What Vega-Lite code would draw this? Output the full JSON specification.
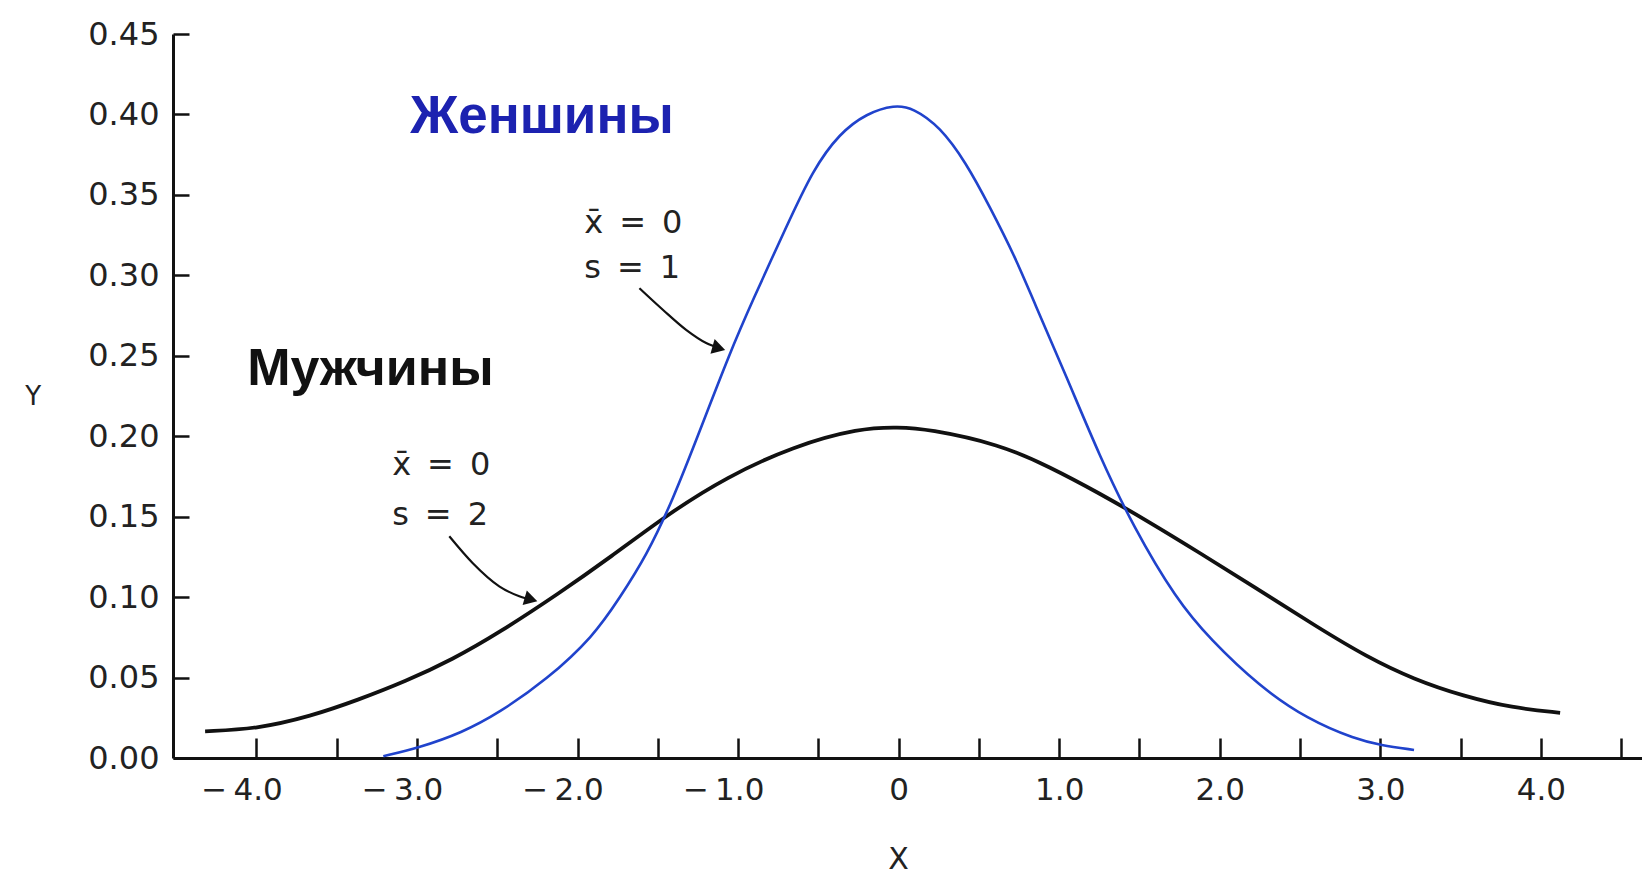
{
  "$schema": "https://vega.github.io/schema/vega-lite/v6.json",
  "autosize": {"type": "none"},
  "padding": {"left": 173, "top": 34, "right": 0, "bottom": 121},
  "width": 1469,
  "height": 724,
  "background": "white",
  "config": {"view": {"stroke": null}},
  "datasets": {
    "curves": [
      {"series": "men", "x": -4.32, "y": 0.0166},
      {"series": "men", "x": -4.0, "y": 0.018},
      {"series": "men", "x": -3.66, "y": 0.026},
      {"series": "men", "x": -3.37, "y": 0.036},
      {"series": "men", "x": -3.07, "y": 0.0477},
      {"series": "men", "x": -2.78, "y": 0.0612},
      {"series": "men", "x": -2.49, "y": 0.0778},
      {"series": "men", "x": -2.112, "y": 0.1026},
      {"series": "men", "x": -1.8, "y": 0.1245},
      {"series": "men", "x": -1.427, "y": 0.1523},
      {"series": "men", "x": -1.074, "y": 0.1745},
      {"series": "men", "x": -0.659, "y": 0.1937},
      {"series": "men", "x": -0.243, "y": 0.2051},
      {"series": "men", "x": 0.0, "y": 0.2056},
      {"series": "men", "x": 0.18, "y": 0.2045},
      {"series": "men", "x": 0.629, "y": 0.195},
      {"series": "men", "x": 0.94, "y": 0.181},
      {"series": "men", "x": 1.252, "y": 0.1645},
      {"series": "men", "x": 1.564, "y": 0.1465},
      {"series": "men", "x": 1.875, "y": 0.1275},
      {"series": "men", "x": 2.187, "y": 0.108},
      {"series": "men", "x": 2.61, "y": 0.0812},
      {"series": "men", "x": 2.91, "y": 0.0632},
      {"series": "men", "x": 3.21, "y": 0.0488},
      {"series": "men", "x": 3.52, "y": 0.0384},
      {"series": "men", "x": 3.82, "y": 0.0312},
      {"series": "men", "x": 4.12, "y": 0.0281},
      {"series": "women", "x": -3.21, "y": 0.0011},
      {"series": "women", "x": -2.99, "y": 0.0063},
      {"series": "women", "x": -2.72, "y": 0.0157},
      {"series": "women", "x": -2.49, "y": 0.028},
      {"series": "women", "x": -2.19, "y": 0.0488},
      {"series": "women", "x": -1.9, "y": 0.0757},
      {"series": "women", "x": -1.738, "y": 0.0995},
      {"series": "women", "x": -1.572, "y": 0.1255},
      {"series": "women", "x": -1.406, "y": 0.1606},
      {"series": "women", "x": -1.24, "y": 0.203},
      {"series": "women", "x": -1.053, "y": 0.2515},
      {"series": "women", "x": -0.908, "y": 0.2848},
      {"series": "women", "x": -0.7, "y": 0.3301},
      {"series": "women", "x": -0.534, "y": 0.3657},
      {"series": "women", "x": -0.368, "y": 0.3883},
      {"series": "women", "x": -0.2, "y": 0.4007},
      {"series": "women", "x": -0.025, "y": 0.406},
      {"series": "women", "x": 0.09, "y": 0.404},
      {"series": "women", "x": 0.256, "y": 0.3925},
      {"series": "women", "x": 0.42, "y": 0.37},
      {"series": "women", "x": 0.567, "y": 0.3427},
      {"series": "women", "x": 0.734, "y": 0.3096},
      {"series": "women", "x": 0.837, "y": 0.2848},
      {"series": "women", "x": 1.045, "y": 0.2371},
      {"series": "women", "x": 1.252, "y": 0.1875},
      {"series": "women", "x": 1.46, "y": 0.144},
      {"series": "women", "x": 1.73, "y": 0.0984},
      {"series": "women", "x": 1.94, "y": 0.0738},
      {"series": "women", "x": 2.244, "y": 0.0447},
      {"series": "women", "x": 2.547, "y": 0.024},
      {"series": "women", "x": 2.85, "y": 0.0115},
      {"series": "women", "x": 3.0, "y": 0.008},
      {"series": "women", "x": 3.21, "y": 0.005}
    ],
    "arrows": [
      {"arrow": "a1", "order": 1, "x": -1.615, "y": 0.292},
      {"arrow": "a1", "order": 2, "x": -1.469, "y": 0.2786},
      {"arrow": "a1", "order": 3, "x": -1.324, "y": 0.2661},
      {"arrow": "a1", "order": 4, "x": -1.199, "y": 0.2579},
      {"arrow": "a1", "order": 5, "x": -1.11, "y": 0.2545},
      {"arrow": "a2", "order": 1, "x": -2.799, "y": 0.1378},
      {"arrow": "a2", "order": 2, "x": -2.654, "y": 0.1212},
      {"arrow": "a2", "order": 3, "x": -2.488, "y": 0.1067},
      {"arrow": "a2", "order": 4, "x": -2.363, "y": 0.1005},
      {"arrow": "a2", "order": 5, "x": -2.27, "y": 0.0978}
    ],
    "heads": [
      {"arrow": "a1", "x": -1.12, "y": 0.2547},
      {"arrow": "a2", "x": -2.29, "y": 0.0985}
    ],
    "params": [
      {"x": -1.958, "y": 0.3326, "text": "x̄\u2002=\u20020"},
      {"x": -1.958, "y": 0.3047, "text": "s\u2002=\u20021"},
      {"x": -3.155, "y": 0.1823, "text": "x̄\u2002=\u20020"},
      {"x": -3.155, "y": 0.1512, "text": "s\u2002=\u20022"}
    ],
    "women_label": [{"x": -3.042, "y": 0.3985, "text": "Женшины"}],
    "men_label": [{"x": -4.058, "y": 0.242, "text": "Мужчины"}]
  },
  "layer": [
    {
      "data": {"name": "curves"},
      "mark": {"type": "line", "interpolate": "basis"},
      "encoding": {
        "x": {
          "field": "x", "type": "quantitative",
          "scale": {"domain": [-4.52, 4.63], "nice": false, "zero": false},
          "axis": {
            "title": "X",
            "values": [-4, -3.5, -3, -2.5, -2, -1.5, -1, -0.5, 0, 0.5, 1, 1.5, 2, 2.5, 3, 3.5, 4, 4.5],
            "labelExpr": "datum.value === 0 ? '0' : (abs(datum.value % 1) < 0.01 ? (datum.value < 0 ? '\u2212\u2009' + format(abs(datum.value), '.1f') : format(datum.value, '.1f')) : '')",
            "labelOffset": {"condition": {"test": "datum.value < 0", "value": -15}, "value": 0},
            "grid": false,
            "domainColor": "#111111", "domainWidth": 3,
            "tickColor": "#111111", "tickWidth": 2.5, "tickSize": -20,
            "labelFont": "DejaVu Sans", "labelFontSize": 31, "labelColor": "#222222",
            "labelPadding": 37, "labelFlush": false, "labelOverlap": false,
            "titleFont": "DejaVu Sans", "titleFontSize": 30, "titleFontWeight": "normal", "titleColor": "#222222",
            "titlePadding": 39, "titleX": 725
          }
        },
        "y": {
          "field": "y", "type": "quantitative",
          "scale": {"domain": [0, 0.45], "nice": false},
          "axis": {
            "title": "Y",
            "values": [0, 0.05, 0.1, 0.15, 0.2, 0.25, 0.3, 0.35, 0.4, 0.45],
            "format": ".2f",
            "grid": false,
            "domainColor": "#111111", "domainWidth": 3,
            "tickColor": "#111111", "tickWidth": 2.5, "tickSize": -16,
            "labelFont": "DejaVu Sans", "labelFontSize": 32, "labelColor": "#222222",
            "labelPadding": 30, "labelFlush": false, "labelOverlap": false,
            "titleFont": "DejaVu Sans", "titleFontSize": 26, "titleFontWeight": "normal", "titleColor": "#222222",
            "titleAngle": 0, "titleAlign": "center", "titleBaseline": "middle",
            "titlePadding": 55
          }
        },
        "color": {
          "field": "series", "type": "nominal",
          "scale": {"domain": ["men", "women"], "range": ["#111111", "#2043cc"]},
          "legend": null
        },
        "strokeWidth": {
          "field": "series", "type": "nominal",
          "scale": {"domain": ["men", "women"], "range": [3.8, 2.6]},
          "legend": null
        }
      }
    },
    {
      "data": {"name": "arrows"},
      "mark": {"type": "line", "interpolate": "monotone", "color": "#111111", "strokeWidth": 2.2},
      "encoding": {
        "x": {"field": "x", "type": "quantitative"},
        "y": {"field": "y", "type": "quantitative"},
        "detail": {"field": "arrow"},
        "order": {"field": "order"}
      }
    },
    {
      "data": {"name": "heads"},
      "mark": {"type": "point", "shape": "triangle-right", "filled": true, "color": "#111111", "size": 230, "angle": 16, "opacity": 1},
      "encoding": {
        "x": {"field": "x", "type": "quantitative"},
        "y": {"field": "y", "type": "quantitative"}
      }
    },
    {
      "data": {"name": "params"},
      "mark": {"type": "text", "align": "left", "baseline": "middle", "font": "DejaVu Sans", "fontSize": 32, "color": "#222222"},
      "encoding": {
        "x": {"field": "x", "type": "quantitative"},
        "y": {"field": "y", "type": "quantitative"},
        "text": {"field": "text"}
      }
    },
    {
      "data": {"name": "women_label"},
      "mark": {"type": "text", "align": "left", "baseline": "middle", "font": "Liberation Sans", "fontWeight": "bold", "fontSize": 53, "color": "#1c22b0"},
      "encoding": {
        "x": {"field": "x", "type": "quantitative"},
        "y": {"field": "y", "type": "quantitative"},
        "text": {"field": "text"}
      }
    },
    {
      "data": {"name": "men_label"},
      "mark": {"type": "text", "align": "left", "baseline": "middle", "font": "Liberation Sans", "fontWeight": "bold", "fontSize": 52, "color": "#111111"},
      "encoding": {
        "x": {"field": "x", "type": "quantitative"},
        "y": {"field": "y", "type": "quantitative"},
        "text": {"field": "text"}
      }
    }
  ]
}
